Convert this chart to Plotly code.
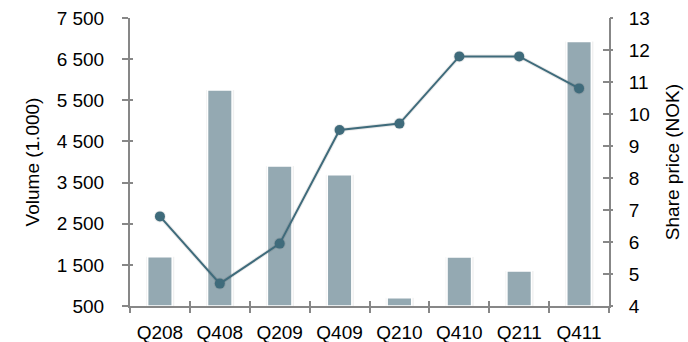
import plotly.graph_objects as go

categories = ["Q208", "Q408", "Q209", "Q409", "Q210", "Q410", "Q211", "Q411"]
volume = [1700, 5750, 3900, 3690, 700, 1690, 1350, 6930]
share_price = [6.8, 4.7, 5.95, 9.5, 9.7, 11.8, 11.8, 10.8]
left_ticks = [500, 1500, 2500, 3500, 4500, 5500, 6500, 7500]
left_tick_text = ["500", "1 500", "2 500", "3 500", "4 500", "5 500", "6 500", "7 500"]
right_ticks = list(range(4, 14))

FONT = "Liberation Sans, Arial, sans-serif"
AX = "#878787"
BAR = "#94a9b2"
LINE = "#3f6b7b"

fig = go.Figure()
# soft shadow behind bars
fig.add_trace(go.Bar(x=categories, y=[v - 500 for v in volume], base=[500] * len(volume),
                     marker=dict(color="rgba(0,0,0,0.06)", line=dict(width=0)),
                     width=0.47, offset=-0.23, yaxis="y", xaxis="x",
                     hoverinfo="skip", showlegend=False))
fig.add_trace(go.Bar(x=categories, y=[v - 500 for v in volume], base=[500] * len(volume),
                     marker=dict(color=BAR, line=dict(color="white", width=1.5)),
                     width=0.41, yaxis="y", xaxis="x", showlegend=False))
# line shadow
fig.add_trace(go.Scatter(x=categories, y=share_price, yaxis="y2", xaxis="x",
                         mode="lines+markers",
                         line=dict(color="rgba(0,0,0,0.08)", width=4),
                         marker=dict(size=12, color="rgba(0,0,0,0.08)"),
                         hoverinfo="skip", showlegend=False))
fig.add_trace(go.Scatter(x=categories, y=share_price, yaxis="y2", xaxis="x",
                         mode="lines+markers",
                         line=dict(color=LINE, width=2),
                         marker=dict(size=10, color=LINE),
                         showlegend=False))

tickfont = dict(family=FONT, size=19, color="#000000")
fig.update_layout(
    width=688, height=342,
    margin=dict(l=130, r=79, t=18, b=36),
    paper_bgcolor="white", plot_bgcolor="white",
    barmode="overlay",
    xaxis=dict(type="category", categoryorder="array", categoryarray=categories,
               showline=True, linecolor=AX, linewidth=2, automargin=False,
               ticks="outside", ticklen=5, tickwidth=1.5, tickcolor=AX,
               tickson="boundaries", showgrid=False,
               tickfont=tickfont, ticklabelstandoff=8,
               range=[-0.5, 7.5]),
    xaxis2=dict(type="category", categoryorder="array", categoryarray=categories,
                overlaying="x", showline=False, ticks="inside", ticklen=5, automargin=False,
                tickwidth=1.5, tickcolor=AX, tickson="boundaries",
                showticklabels=False, showgrid=False, range=[-0.5, 7.5], side="bottom"),
    yaxis=dict(range=[500, 7500], tickvals=left_ticks, ticktext=left_tick_text,
               showline=True, linecolor=AX, linewidth=2, automargin=False,
               ticks="outside", ticklen=6, tickwidth=1.5, tickcolor=AX,
               showgrid=False, zeroline=False, tickfont=tickfont,
               ticklabelstandoff=14,
               title=dict(text="Volume (1.000)", font=dict(family=FONT, size=19, color="#000"),
                          standoff=12)),
    yaxis3=dict(range=[500, 7500], tickvals=left_ticks, overlaying="y", automargin=False,
                ticks="inside", ticklen=3, tickwidth=1.5, tickcolor=AX,
                showticklabels=False, showgrid=False, zeroline=False, showline=False),
    yaxis2=dict(range=[4, 13], tickvals=right_ticks, overlaying="y", side="right",
                showline=True, linecolor=AX, linewidth=2, automargin=False,
                ticks="inside", ticklen=6, tickwidth=1.5, tickcolor=AX,
                showgrid=False, zeroline=False, tickfont=tickfont,
                ticklabelstandoff=14,
                title=dict(text="Share price (NOK)", font=dict(family=FONT, size=19, color="#000"),
                           standoff=17)),
    yaxis4=dict(range=[4, 13], tickvals=right_ticks, overlaying="y", side="right",
                ticks="outside", ticklen=3, tickwidth=1.5, tickcolor=AX, automargin=False,
                showticklabels=False, showgrid=False, zeroline=False, showline=False),
)
# dummy traces to activate extra axes
fig.add_trace(go.Scatter(x=[categories[0]], y=[500], xaxis="x2", yaxis="y3",
                         mode="markers", marker=dict(opacity=0), hoverinfo="skip", showlegend=False))
fig.add_trace(go.Scatter(x=[categories[0]], y=[4], xaxis="x", yaxis="y4",
                         mode="markers", marker=dict(opacity=0), hoverinfo="skip", showlegend=False))

fig.write_html("out.html")
